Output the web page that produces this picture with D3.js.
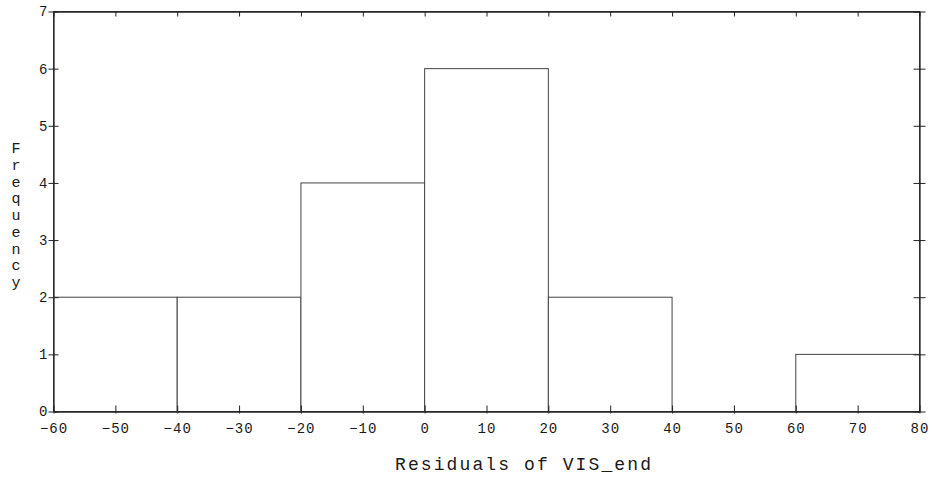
<!DOCTYPE html>
<html>
<head>
<meta charset="utf-8">
<script src="https://cdn.jsdelivr.net/npm/d3@7"></script>
<style>
  html, body { margin: 0; padding: 0; background: #fff; }
  svg { display: block; }
  text { font-family: "Liberation Mono", "DejaVu Sans Mono", monospace; fill: #1a1a1a; }
</style>
</head>
<body>
<svg id="chart" width="932" height="490"></svg>
<script>
// Histogram bins of residuals (lower edge, upper edge, count)
const binStarts = [-60, -40, -20, 0, 20, 40, 60];
const binEnds   = [-40, -20, 0, 20, 40, 60, 80];
const counts    = [2, 2, 4, 6, 2, 0, 1];
const xTicks    = [-60, -50, -40, -30, -20, -10, 0, 10, 20, 30, 40, 50, 60, 70, 80];
const yTicks    = [0, 1, 2, 3, 4, 5, 6, 7];
const yLabel    = "Frequency";
const xLabel    = "Residuals of VIS_end";

const svg = d3.select("#chart");
const plotLeft = 53, plotRight = 919, plotTop = 11, plotBottom = 411;

const x = d3.scaleLinear().domain([-60, 80]).range([plotLeft, plotRight]);
const y = d3.scaleLinear().domain([0, 7]).range([plotBottom, plotTop]);

const bins = binStarts.map((s, i) => ({ x0: s, x1: binEnds[i], n: counts[i] }));

// Bars
svg.append("g").selectAll("rect").data(bins).join("rect")
  .attr("x", d => x(d.x0) + 0.5)
  .attr("y", d => y(d.n) + 0.5)
  .attr("width", d => x(d.x1) - x(d.x0))
  .attr("height", d => y(0) - y(d.n))
  .attr("fill", "#fff")
  .attr("stroke", "#444")
  .attr("stroke-width", 1);

// Frame
svg.append("rect")
  .attr("x", plotLeft + 0.5).attr("y", plotTop + 0.5)
  .attr("width", plotRight - plotLeft).attr("height", plotBottom - plotTop)
  .attr("fill", "none").attr("stroke", "#444").attr("stroke-width", 1);

// Axes with ticks crossing the frame lines
const tickStyle = g => {
  g.select(".domain").attr("stroke", "#222").attr("stroke-width", 1.3);
  g.selectAll(".tick line").attr("stroke", "#222").attr("stroke-width", 1);
};

const xAxis = svg.append("g")
  .attr("transform", `translate(0.5,${plotBottom + 0.5})`)
  .call(d3.axisBottom(x).tickValues(xTicks).tickSize(2).tickSizeOuter(0).tickPadding(9))
  .call(tickStyle);
xAxis.selectAll(".tick line").attr("y1", -6).attr("y2", 2);
xAxis.selectAll(".tick text").attr("font-size", 14).attr("letter-spacing", 1).attr("dy", "0.75em");

svg.append("g")
  .attr("transform", `translate(0.5,${plotTop + 0.5})`)
  .call(d3.axisBottom(x).tickValues(xTicks).tickSize(5).tickSizeOuter(0).tickFormat(""))
  .call(tickStyle);

const yAxis = svg.append("g")
  .attr("transform", `translate(${plotLeft + 0.5},0.5)`)
  .call(d3.axisLeft(y).tickValues(yTicks).tickFormat(d3.format("d")).tickSize(5).tickSizeOuter(0).tickPadding(1))
  .call(tickStyle);
yAxis.selectAll(".tick line").attr("x1", -5).attr("x2", 5);
yAxis.selectAll(".tick text").attr("font-size", 14);

const yRight = svg.append("g")
  .attr("transform", `translate(${plotRight + 0.5},0.5)`)
  .call(d3.axisLeft(y).tickValues(yTicks).tickSize(5).tickSizeOuter(0).tickFormat(""))
  .call(tickStyle);
yRight.selectAll(".tick line").attr("x1", -6).attr("x2", 6);

// Vertical y-axis title, one letter per line
svg.append("g").selectAll("text").data(yLabel.split("")).join("text")
  .attr("x", 16)
  .attr("y", (d, i) => 153 + i * 16.75)
  .attr("text-anchor", "middle")
  .attr("font-size", 15)
  .text(d => d);

// X-axis title
svg.append("text")
  .attr("x", 395)
  .attr("y", 470)
  .attr("font-size", 18)
  .attr("letter-spacing", 2.1)
  .text(xLabel);
</script>
</body>
</html>
